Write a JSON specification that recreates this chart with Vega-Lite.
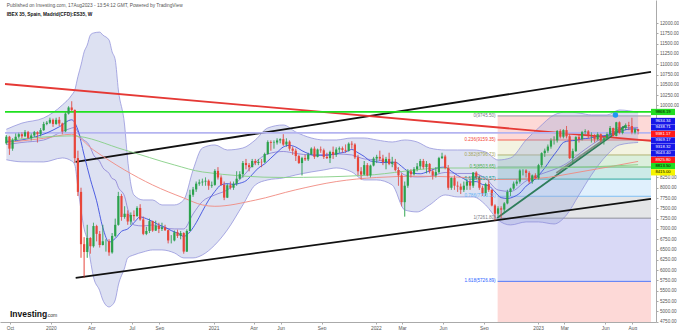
{
"$schema":"https://vega.github.io/schema/vega-lite/v6.json",
"width":656,"height":322,"padding":0,"background":"white",
"config":{"view":{"stroke":null},"font":"Liberation Sans","axis":{"grid":false,"labelColor":"#555","tickColor":"#aaa","domainColor":"#aaa","tickSize":2,"labelOverlap":false,"labelFlush":false}},
"resolve":{"scale":{"fill":"independent","stroke":"independent","strokeWidth":"independent","color":"independent"}},
"datasets":{
"candles":[
{"d":"2019-09-23","o":9080,"h":9280,"l":9050,"c":9240},
{"d":"2019-09-30","o":9240,"h":9260,"l":8800,"c":8950},
{"d":"2019-10-07","o":8950,"h":9200,"l":8900,"c":9160},
{"d":"2019-10-14","o":9160,"h":9320,"l":9130,"c":9240},
{"d":"2019-10-21","o":9240,"h":9340,"l":9200,"c":9300},
{"d":"2019-10-28","o":9300,"h":9350,"l":9200,"c":9250},
{"d":"2019-11-04","o":9250,"h":9400,"l":9230,"c":9350},
{"d":"2019-11-11","o":9350,"h":9380,"l":9180,"c":9210},
{"d":"2019-11-18","o":9210,"h":9320,"l":9150,"c":9270},
{"d":"2019-11-25","o":9270,"h":9380,"l":9230,"c":9350},
{"d":"2019-12-02","o":9350,"h":9370,"l":9100,"c":9300},
{"d":"2019-12-09","o":9300,"h":9450,"l":9250,"c":9400},
{"d":"2019-12-16","o":9400,"h":9600,"l":9380,"c":9550},
{"d":"2019-12-23","o":9550,"h":9620,"l":9520,"c":9580},
{"d":"2019-12-30","o":9580,"h":9700,"l":9550,"c":9650},
{"d":"2020-01-06","o":9650,"h":9680,"l":9480,"c":9550},
{"d":"2020-01-13","o":9550,"h":9700,"l":9530,"c":9650},
{"d":"2020-01-20","o":9650,"h":9720,"l":9500,"c":9560},
{"d":"2020-01-27","o":9560,"h":9580,"l":9300,"c":9370},
{"d":"2020-02-03","o":9370,"h":9830,"l":9350,"c":9800},
{"d":"2020-02-10","o":9800,"h":9980,"l":9780,"c":9950},
{"d":"2020-02-17","o":9950,"h":10100,"l":9850,"c":9890},
{"d":"2020-02-24","o":9890,"h":9900,"l":8600,"c":8720},
{"d":"2020-03-02","o":8720,"h":8900,"l":7800,"c":7900},
{"d":"2020-03-09","o":7900,"h":8000,"l":6300,"c":6630},
{"d":"2020-03-16","o":6630,"h":6800,"l":5814,"c":6440},
{"d":"2020-03-23","o":6440,"h":7100,"l":6300,"c":6780},
{"d":"2020-03-30","o":6780,"h":6800,"l":6400,"c":6580},
{"d":"2020-04-06","o":6580,"h":7150,"l":6550,"c":7070},
{"d":"2020-04-13","o":7070,"h":7100,"l":6700,"c":6880},
{"d":"2020-04-20","o":6880,"h":6950,"l":6550,"c":6610},
{"d":"2020-04-27","o":6610,"h":7100,"l":6600,"c":6700},
{"d":"2020-05-04","o":6700,"h":6750,"l":6450,"c":6700},
{"d":"2020-05-11","o":6700,"h":6750,"l":6350,"c":6430},
{"d":"2020-05-18","o":6430,"h":6900,"l":6400,"c":6830},
{"d":"2020-05-25","o":6830,"h":7250,"l":6800,"c":7100},
{"d":"2020-06-01","o":7100,"h":7900,"l":7080,"c":7800},
{"d":"2020-06-08","o":7800,"h":7850,"l":7200,"c":7290},
{"d":"2020-06-15","o":7290,"h":7550,"l":7250,"c":7370},
{"d":"2020-06-22","o":7370,"h":7450,"l":7100,"c":7180},
{"d":"2020-06-29","o":7180,"h":7400,"l":7100,"c":7340},
{"d":"2020-07-06","o":7340,"h":7450,"l":7200,"c":7310},
{"d":"2020-07-13","o":7310,"h":7550,"l":7300,"c":7510},
{"d":"2020-07-20","o":7510,"h":7600,"l":7200,"c":7230},
{"d":"2020-07-27","o":7230,"h":7300,"l":6850,"c":6880},
{"d":"2020-08-03","o":6880,"h":7050,"l":6850,"c":6950},
{"d":"2020-08-10","o":6950,"h":7250,"l":6900,"c":7190},
{"d":"2020-08-17","o":7190,"h":7200,"l":6930,"c":6960},
{"d":"2020-08-24","o":6960,"h":7200,"l":6950,"c":7080},
{"d":"2020-08-31","o":7080,"h":7150,"l":6900,"c":7000},
{"d":"2020-09-07","o":7000,"h":7150,"l":6950,"c":7040},
{"d":"2020-09-14","o":7040,"h":7100,"l":6950,"c":6970},
{"d":"2020-09-21","o":6970,"h":6980,"l":6650,"c":6720},
{"d":"2020-09-28","o":6720,"h":6850,"l":6650,"c":6720},
{"d":"2020-10-05","o":6720,"h":6960,"l":6700,"c":6920},
{"d":"2020-10-12","o":6920,"h":6980,"l":6780,"c":6830},
{"d":"2020-10-19","o":6830,"h":6950,"l":6750,"c":6900},
{"d":"2020-10-26","o":6900,"h":6920,"l":6400,"c":6450},
{"d":"2020-11-02","o":6450,"h":6990,"l":6440,"c":6950},
{"d":"2020-11-09","o":6950,"h":7950,"l":6950,"c":7830},
{"d":"2020-11-16","o":7830,"h":8020,"l":7780,"c":7960},
{"d":"2020-11-23","o":7960,"h":8150,"l":7900,"c":8100},
{"d":"2020-11-30","o":8100,"h":8200,"l":8050,"c":8130},
{"d":"2020-12-07","o":8130,"h":8220,"l":8050,"c":8150},
{"d":"2020-12-14","o":8150,"h":8250,"l":8050,"c":8170},
{"d":"2020-12-21","o":8170,"h":8200,"l":7950,"c":8050},
{"d":"2020-12-28","o":8050,"h":8150,"l":8000,"c":8070},
{"d":"2021-01-04","o":8070,"h":8450,"l":8050,"c":8410},
{"d":"2021-01-11","o":8410,"h":8500,"l":8200,"c":8250},
{"d":"2021-01-18","o":8250,"h":8300,"l":8050,"c":8070},
{"d":"2021-01-25","o":8070,"h":8150,"l":7700,"c":7760},
{"d":"2021-02-01","o":7760,"h":8100,"l":7750,"c":8060},
{"d":"2021-02-08","o":8060,"h":8150,"l":7960,"c":8000},
{"d":"2021-02-15","o":8000,"h":8150,"l":7950,"c":8100},
{"d":"2021-02-22","o":8100,"h":8400,"l":8050,"c":8220},
{"d":"2021-03-01","o":8220,"h":8400,"l":8200,"c":8330},
{"d":"2021-03-08","o":8330,"h":8650,"l":8250,"c":8600},
{"d":"2021-03-15","o":8600,"h":8700,"l":8450,"c":8550},
{"d":"2021-03-22","o":8550,"h":8600,"l":8400,"c":8500},
{"d":"2021-03-29","o":8500,"h":8700,"l":8500,"c":8650},
{"d":"2021-04-05","o":8650,"h":8700,"l":8550,"c":8600},
{"d":"2021-04-12","o":8600,"h":8700,"l":8550,"c":8630},
{"d":"2021-04-19","o":8630,"h":8700,"l":8500,"c":8620},
{"d":"2021-04-26","o":8620,"h":8850,"l":8600,"c":8820},
{"d":"2021-05-03","o":8820,"h":9150,"l":8800,"c":9110},
{"d":"2021-05-10","o":9110,"h":9150,"l":8900,"c":9090},
{"d":"2021-05-17","o":9090,"h":9150,"l":8950,"c":9100},
{"d":"2021-05-24","o":9100,"h":9200,"l":9050,"c":9150},
{"d":"2021-05-31","o":9150,"h":9200,"l":9080,"c":9180},
{"d":"2021-06-07","o":9180,"h":9300,"l":9020,"c":9050},
{"d":"2021-06-14","o":9050,"h":9200,"l":9000,"c":9120},
{"d":"2021-06-21","o":9120,"h":9150,"l":8900,"c":8950},
{"d":"2021-06-28","o":8950,"h":9000,"l":8800,"c":8900},
{"d":"2021-07-05","o":8900,"h":8950,"l":8650,"c":8770},
{"d":"2021-07-12","o":8770,"h":8800,"l":8580,"c":8600},
{"d":"2021-07-19","o":8600,"h":8750,"l":8300,"c":8720},
{"d":"2021-07-26","o":8720,"h":8800,"l":8650,"c":8690},
{"d":"2021-08-02","o":8690,"h":8850,"l":8650,"c":8810},
{"d":"2021-08-09","o":8810,"h":8980,"l":8800,"c":8950},
{"d":"2021-08-16","o":8950,"h":9000,"l":8700,"c":8750},
{"d":"2021-08-23","o":8750,"h":8950,"l":8740,"c":8930},
{"d":"2021-08-30","o":8930,"h":9000,"l":8850,"c":8910},
{"d":"2021-09-06","o":8910,"h":8950,"l":8700,"c":8750},
{"d":"2021-09-13","o":8750,"h":8850,"l":8700,"c":8720},
{"d":"2021-09-20","o":8720,"h":8900,"l":8600,"c":8870},
{"d":"2021-09-27","o":8870,"h":9000,"l":8700,"c":8800},
{"d":"2021-10-04","o":8800,"h":8980,"l":8750,"c":8930},
{"d":"2021-10-11","o":8930,"h":9000,"l":8850,"c":8960},
{"d":"2021-10-18","o":8960,"h":9000,"l":8850,"c":8920},
{"d":"2021-10-25","o":8920,"h":9050,"l":8850,"c":8900},
{"d":"2021-11-01","o":8900,"h":9100,"l":8880,"c":9070},
{"d":"2021-11-08","o":9070,"h":9130,"l":8950,"c":9050},
{"d":"2021-11-15","o":9050,"h":9080,"l":8700,"c":8740},
{"d":"2021-11-22","o":8740,"h":8800,"l":8300,"c":8400},
{"d":"2021-11-29","o":8400,"h":8500,"l":8200,"c":8320},
{"d":"2021-12-06","o":8320,"h":8650,"l":8300,"c":8550},
{"d":"2021-12-13","o":8550,"h":8600,"l":8280,"c":8300},
{"d":"2021-12-20","o":8300,"h":8560,"l":8250,"c":8540},
{"d":"2021-12-27","o":8540,"h":8750,"l":8520,"c":8710},
{"d":"2022-01-03","o":8710,"h":8800,"l":8600,"c":8750},
{"d":"2022-01-10","o":8750,"h":8900,"l":8650,"c":8710},
{"d":"2022-01-17","o":8710,"h":8800,"l":8550,"c":8620},
{"d":"2022-01-24","o":8620,"h":8750,"l":8450,"c":8700},
{"d":"2022-01-31","o":8700,"h":8850,"l":8550,"c":8580},
{"d":"2022-02-07","o":8580,"h":8750,"l":8500,"c":8630},
{"d":"2022-02-14","o":8630,"h":8700,"l":8400,"c":8430},
{"d":"2022-02-21","o":8430,"h":8500,"l":8050,"c":8300},
{"d":"2022-02-28","o":8300,"h":8350,"l":7550,"c":7650},
{"d":"2022-03-07","o":7650,"h":8150,"l":7300,"c":8050},
{"d":"2022-03-14","o":8050,"h":8450,"l":8000,"c":8400},
{"d":"2022-03-21","o":8400,"h":8450,"l":8250,"c":8330},
{"d":"2022-03-28","o":8330,"h":8500,"l":8300,"c":8450},
{"d":"2022-04-04","o":8450,"h":8600,"l":8400,"c":8520},
{"d":"2022-04-11","o":8520,"h":8700,"l":8450,"c":8650},
{"d":"2022-04-18","o":8650,"h":8700,"l":8450,"c":8500},
{"d":"2022-04-25","o":8500,"h":8650,"l":8350,"c":8580},
{"d":"2022-05-02","o":8580,"h":8600,"l":8350,"c":8400},
{"d":"2022-05-09","o":8400,"h":8450,"l":8200,"c":8300},
{"d":"2022-05-16","o":8300,"h":8500,"l":8250,"c":8380},
{"d":"2022-05-23","o":8380,"h":8750,"l":8350,"c":8720},
{"d":"2022-05-30","o":8720,"h":8850,"l":8700,"c":8760},
{"d":"2022-06-06","o":8760,"h":8800,"l":8450,"c":8480},
{"d":"2022-06-13","o":8480,"h":8550,"l":7950,"c":8000},
{"d":"2022-06-20","o":8000,"h":8250,"l":7950,"c":8240},
{"d":"2022-06-27","o":8240,"h":8300,"l":7950,"c":8050},
{"d":"2022-07-04","o":8050,"h":8150,"l":7900,"c":8030},
{"d":"2022-07-11","o":8030,"h":8100,"l":7850,"c":7950},
{"d":"2022-07-18","o":7950,"h":8150,"l":7900,"c":8050},
{"d":"2022-07-25","o":8050,"h":8200,"l":7950,"c":8150},
{"d":"2022-08-01","o":8150,"h":8200,"l":7950,"c":8050},
{"d":"2022-08-08","o":8050,"h":8380,"l":8000,"c":8370},
{"d":"2022-08-15","o":8370,"h":8400,"l":8200,"c":8250},
{"d":"2022-08-22","o":8250,"h":8300,"l":7950,"c":8000},
{"d":"2022-08-29","o":8000,"h":8050,"l":7800,"c":7870},
{"d":"2022-09-05","o":7870,"h":8120,"l":7800,"c":8090},
{"d":"2022-09-12","o":8090,"h":8200,"l":7900,"c":7950},
{"d":"2022-09-19","o":7950,"h":7960,"l":7550,"c":7570},
{"d":"2022-09-26","o":7570,"h":7600,"l":7200,"c":7370},
{"d":"2022-10-03","o":7370,"h":7550,"l":7300,"c":7500},
{"d":"2022-10-10","o":7500,"h":7550,"l":7260,"c":7470},
{"d":"2022-10-17","o":7470,"h":7650,"l":7400,"c":7620},
{"d":"2022-10-24","o":7620,"h":7950,"l":7600,"c":7900},
{"d":"2022-10-31","o":7900,"h":8000,"l":7800,"c":7980},
{"d":"2022-11-07","o":7980,"h":8150,"l":7950,"c":8100},
{"d":"2022-11-14","o":8100,"h":8200,"l":8050,"c":8150},
{"d":"2022-11-21","o":8150,"h":8450,"l":8100,"c":8420},
{"d":"2022-11-28","o":8420,"h":8450,"l":8300,"c":8420},
{"d":"2022-12-05","o":8420,"h":8450,"l":8250,"c":8360},
{"d":"2022-12-12","o":8360,"h":8400,"l":8100,"c":8150},
{"d":"2022-12-19","o":8150,"h":8320,"l":8100,"c":8300},
{"d":"2022-12-26","o":8300,"h":8350,"l":8200,"c":8230},
{"d":"2023-01-02","o":8230,"h":8580,"l":8200,"c":8550},
{"d":"2023-01-09","o":8550,"h":8860,"l":8500,"c":8840},
{"d":"2023-01-16","o":8840,"h":8950,"l":8750,"c":8900},
{"d":"2023-01-23","o":8900,"h":9050,"l":8850,"c":9000},
{"d":"2023-01-30","o":9000,"h":9200,"l":8950,"c":9150},
{"d":"2023-02-06","o":9150,"h":9250,"l":9050,"c":9150},
{"d":"2023-02-13","o":9150,"h":9400,"l":9100,"c":9380},
{"d":"2023-02-20","o":9380,"h":9420,"l":9200,"c":9240},
{"d":"2023-02-27","o":9240,"h":9420,"l":9200,"c":9400},
{"d":"2023-03-06","o":9400,"h":9500,"l":9200,"c":9250},
{"d":"2023-03-13","o":9250,"h":9300,"l":8700,"c":8720},
{"d":"2023-03-20","o":8720,"h":8950,"l":8600,"c":8890},
{"d":"2023-03-27","o":8890,"h":9250,"l":8870,"c":9230},
{"d":"2023-04-03","o":9230,"h":9280,"l":9100,"c":9180},
{"d":"2023-04-10","o":9180,"h":9380,"l":9150,"c":9350},
{"d":"2023-04-17","o":9350,"h":9420,"l":9300,"c":9370},
{"d":"2023-04-24","o":9370,"h":9400,"l":9200,"c":9280},
{"d":"2023-05-01","o":9280,"h":9350,"l":9100,"c":9280},
{"d":"2023-05-08","o":9280,"h":9300,"l":9100,"c":9180},
{"d":"2023-05-15","o":9180,"h":9350,"l":9150,"c":9300},
{"d":"2023-05-22","o":9300,"h":9320,"l":9100,"c":9150},
{"d":"2023-05-29","o":9150,"h":9250,"l":9050,"c":9200},
{"d":"2023-06-05","o":9200,"h":9350,"l":9180,"c":9300},
{"d":"2023-06-12","o":9300,"h":9500,"l":9280,"c":9450},
{"d":"2023-06-19","o":9450,"h":9460,"l":9250,"c":9260},
{"d":"2023-06-26","o":9260,"h":9600,"l":9250,"c":9590},
{"d":"2023-07-03","o":9590,"h":9610,"l":9300,"c":9330},
{"d":"2023-07-10","o":9330,"h":9500,"l":9300,"c":9450},
{"d":"2023-07-17","o":9450,"h":9560,"l":9400,"c":9520},
{"d":"2023-07-24","o":9520,"h":9600,"l":9400,"c":9500},
{"d":"2023-07-31","o":9500,"h":9700,"l":9300,"c":9340},
{"d":"2023-08-07","o":9340,"h":9450,"l":9300,"c":9420},
{"d":"2023-08-14","o":9420,"h":9430,"l":9300,"c":9380}
],
"bb":[
{"d":"2019-09-23","u":9420,"lo":8680,"m":9050},
{"d":"2019-10-28","u":9570,"lo":8630,"m":9100},
{"d":"2019-12-16","u":9695,"lo":8627,"m":9160},
{"d":"2020-01-27","u":10010,"lo":8724,"m":9367},
{"d":"2020-02-17","u":10250,"lo":8650,"m":9450},
{"d":"2020-02-24","u":10375,"lo":8554,"m":9465},
{"d":"2020-03-02","u":10700,"lo":8000,"m":9350},
{"d":"2020-03-09","u":10982,"lo":7461,"m":9220},
{"d":"2020-03-16","u":11300,"lo":7000,"m":9150},
{"d":"2020-03-23","u":11467,"lo":6733,"m":9100},
{"d":"2020-03-30","u":11710,"lo":6247,"m":8980},
{"d":"2020-04-06","u":11759,"lo":5834,"m":8800},
{"d":"2020-04-20","u":11780,"lo":5500,"m":8640},
{"d":"2020-04-27","u":11710,"lo":5276,"m":8490},
{"d":"2020-05-11","u":11589,"lo":5106,"m":8350},
{"d":"2020-05-18","u":11300,"lo":5150,"m":8225},
{"d":"2020-05-25","u":11103,"lo":5276,"m":8190},
{"d":"2020-06-01","u":10375,"lo":5640,"m":8008},
{"d":"2020-06-15","u":9525,"lo":6053,"m":7790},
{"d":"2020-06-22","u":8675,"lo":6296,"m":7486},
{"d":"2020-07-06","u":7825,"lo":6369,"m":7097},
{"d":"2020-07-27","u":7704,"lo":6441,"m":7072},
{"d":"2020-08-17","u":7704,"lo":6490,"m":7097},
{"d":"2020-09-07","u":7583,"lo":6490,"m":7036},
{"d":"2020-10-05","u":7583,"lo":6417,"m":7000},
{"d":"2020-10-26","u":7704,"lo":6296,"m":7000},
{"d":"2020-11-16","u":8432,"lo":6296,"m":7364},
{"d":"2020-12-07","u":8966,"lo":6369,"m":7667},
{"d":"2021-01-04","u":9040,"lo":6611,"m":7825},
{"d":"2021-02-01","u":8918,"lo":6976,"m":7947},
{"d":"2021-03-08","u":8966,"lo":7583,"m":8275},
{"d":"2021-04-05","u":9161,"lo":8068,"m":8615},
{"d":"2021-05-03","u":9452,"lo":8190,"m":8821},
{"d":"2021-06-07","u":9525,"lo":8238,"m":8881},
{"d":"2021-07-05","u":9355,"lo":8311,"m":8833},
{"d":"2021-08-09","u":9209,"lo":8384,"m":8797},
{"d":"2021-09-06","u":9161,"lo":8432,"m":8797},
{"d":"2021-10-04","u":9161,"lo":8481,"m":8821},
{"d":"2021-11-08","u":9209,"lo":8384,"m":8797},
{"d":"2021-12-06","u":9209,"lo":8190,"m":8700},
{"d":"2022-01-03","u":9161,"lo":8190,"m":8676},
{"d":"2022-02-07","u":9112,"lo":8068,"m":8590},
{"d":"2022-03-07","u":9161,"lo":7461,"m":8311},
{"d":"2022-04-04","u":9112,"lo":7413,"m":8262},
{"d":"2022-05-02","u":8966,"lo":7583,"m":8274},
{"d":"2022-06-06","u":8918,"lo":7825,"m":8372},
{"d":"2022-07-04","u":8918,"lo":7777,"m":8347},
{"d":"2022-08-08","u":8918,"lo":7777,"m":8347},
{"d":"2022-09-05","u":8869,"lo":7583,"m":8226},
{"d":"2022-10-03","u":8675,"lo":7218,"m":7946},
{"d":"2022-10-31","u":8724,"lo":7097,"m":7910},
{"d":"2022-12-05","u":9161,"lo":7170,"m":8165},
{"d":"2023-01-02","u":9452,"lo":7170,"m":8311},
{"d":"2023-02-06","u":9768,"lo":7121,"m":8444},
{"d":"2023-03-06","u":9841,"lo":7340,"m":8590},
{"d":"2023-04-03","u":9816,"lo":7825,"m":8820},
{"d":"2023-05-01","u":9768,"lo":8311,"m":9040},
{"d":"2023-06-05","u":9768,"lo":8797,"m":9282},
{"d":"2023-07-03","u":9889,"lo":9040,"m":9464},
{"d":"2023-08-14","u":9830,"lo":9100,"m":9465}
],
"ma":[
{"s":"f","d":"2019-09-23","v":9120},{"s":"f","d":"2019-10-21","v":9150},{"s":"f","d":"2019-11-25","v":9230},{"s":"f","d":"2019-12-23","v":9330},{"s":"f","d":"2020-01-20","v":9480},{"s":"f","d":"2020-02-17","v":9650},{"s":"f","d":"2020-03-02","v":9404},{"s":"f","d":"2020-03-16","v":8791},{"s":"f","d":"2020-03-30","v":8206},{"s":"f","d":"2020-04-13","v":7684},{"s":"f","d":"2020-04-27","v":7033},{"s":"f","d":"2020-05-11","v":6682},{"s":"f","d":"2020-05-25","v":6768},{"s":"f","d":"2020-06-08","v":6941},{"s":"f","d":"2020-06-22","v":7001},{"s":"f","d":"2020-07-06","v":7150},{"s":"f","d":"2020-07-20","v":7290},{"s":"f","d":"2020-08-03","v":7250},{"s":"f","d":"2020-08-17","v":7180},{"s":"f","d":"2020-08-31","v":7100},{"s":"f","d":"2020-09-14","v":7040},{"s":"f","d":"2020-09-28","v":6960},{"s":"f","d":"2020-10-12","v":6900},{"s":"f","d":"2020-10-26","v":6820},{"s":"f","d":"2020-11-09","v":6930},{"s":"f","d":"2020-11-23","v":7150},{"s":"f","d":"2020-12-07","v":7430},{"s":"f","d":"2020-12-21","v":7700},{"s":"f","d":"2021-01-04","v":7910},{"s":"f","d":"2021-01-18","v":8070},{"s":"f","d":"2021-02-01","v":8100},{"s":"f","d":"2021-02-15","v":8080},{"s":"f","d":"2021-03-01","v":8110},{"s":"f","d":"2021-03-15","v":8170},{"s":"f","d":"2021-03-29","v":8320},{"s":"f","d":"2021-04-12","v":8480},{"s":"f","d":"2021-04-26","v":8580},{"s":"f","d":"2021-05-10","v":8720},{"s":"f","d":"2021-05-24","v":8860},{"s":"f","d":"2021-06-07","v":8990},{"s":"f","d":"2021-06-21","v":9030},{"s":"f","d":"2021-07-05","v":8990},{"s":"f","d":"2021-07-19","v":8900},{"s":"f","d":"2021-08-02","v":8830},{"s":"f","d":"2021-08-16","v":8790},{"s":"f","d":"2021-08-30","v":8790},{"s":"f","d":"2021-09-13","v":8790},{"s":"f","d":"2021-09-27","v":8810},{"s":"f","d":"2021-10-11","v":8840},{"s":"f","d":"2021-10-25","v":8870},{"s":"f","d":"2021-11-08","v":8930},{"s":"f","d":"2021-11-22","v":8850},{"s":"f","d":"2021-12-06","v":8760},{"s":"f","d":"2021-12-20","v":8650},{"s":"f","d":"2022-01-03","v":8630},{"s":"f","d":"2022-01-17","v":8610},{"s":"f","d":"2022-01-31","v":8620},{"s":"f","d":"2022-02-14","v":8620},{"s":"f","d":"2022-02-28","v":8520},{"s":"f","d":"2022-03-14","v":8400},{"s":"f","d":"2022-03-28","v":8350},{"s":"f","d":"2022-04-11","v":8340},{"s":"f","d":"2022-04-25","v":8380},{"s":"f","d":"2022-05-09","v":8440},{"s":"f","d":"2022-05-23","v":8490},{"s":"f","d":"2022-06-06","v":8500},{"s":"f","d":"2022-06-20","v":8400},{"s":"f","d":"2022-07-04","v":8300},{"s":"f","d":"2022-07-18","v":8220},{"s":"f","d":"2022-08-01","v":8140},{"s":"f","d":"2022-08-15","v":8150},{"s":"f","d":"2022-08-29","v":8080},{"s":"f","d":"2022-09-12","v":8050},{"s":"f","d":"2022-09-26","v":7900},{"s":"f","d":"2022-10-10","v":7760},{"s":"f","d":"2022-10-24","v":7740},{"s":"f","d":"2022-11-07","v":7780},{"s":"f","d":"2022-11-21","v":7870},{"s":"f","d":"2022-12-05","v":8040},{"s":"f","d":"2022-12-19","v":8150},{"s":"f","d":"2023-01-02","v":8300},{"s":"f","d":"2023-01-16","v":8480},{"s":"f","d":"2023-01-30","v":8700},{"s":"f","d":"2023-02-13","v":8900},{"s":"f","d":"2023-02-27","v":9100},{"s":"f","d":"2023-03-13","v":9140},{"s":"f","d":"2023-03-27","v":9150},{"s":"f","d":"2023-04-10","v":9190},{"s":"f","d":"2023-04-24","v":9200},{"s":"f","d":"2023-05-08","v":9230},{"s":"f","d":"2023-05-22","v":9260},{"s":"f","d":"2023-06-05","v":9270},{"s":"f","d":"2023-06-19","v":9320},{"s":"f","d":"2023-07-03","v":9360},{"s":"f","d":"2023-07-17","v":9410},{"s":"f","d":"2023-07-31","v":9430},{"s":"f","d":"2023-08-14","v":9420},
{"s":"s","d":"2019-09-23","v":9100},{"s":"s","d":"2019-12-16","v":9200},{"s":"s","d":"2020-02-17","v":9300},{"s":"s","d":"2020-04-06","v":8918},{"s":"s","d":"2020-06-15","v":8432},{"s":"s","d":"2020-08-17","v":8068},{"s":"s","d":"2020-10-26","v":7752},{"s":"s","d":"2020-12-07","v":7583},{"s":"s","d":"2021-01-04","v":7550},{"s":"s","d":"2021-04-05","v":7700},{"s":"s","d":"2021-07-05","v":7950},{"s":"s","d":"2021-10-04","v":8150},{"s":"s","d":"2022-01-03","v":8250},{"s":"s","d":"2022-04-04","v":8280},{"s":"s","d":"2022-07-04","v":8260},{"s":"s","d":"2022-10-03","v":8200},{"s":"s","d":"2023-01-02","v":8230},{"s":"s","d":"2023-04-03","v":8380},{"s":"s","d":"2023-08-14","v":8640},
{"s":"g","d":"2019-09-23","v":9150},{"s":"g","d":"2020-02-17","v":9260},{"s":"g","d":"2020-06-15","v":8918},{"s":"g","d":"2020-10-05","v":8554},{"s":"g","d":"2020-12-07","v":8384},{"s":"g","d":"2021-06-07","v":8250},{"s":"g","d":"2021-12-06","v":8300},{"s":"g","d":"2022-06-06","v":8480},{"s":"g","d":"2023-01-02","v":8480},{"s":"g","d":"2023-08-14","v":8560}
],
"lines":[
{"id":"black1","d":"2020-02-26","p":8627},{"id":"black1","d":"2023-09-12","p":10812},
{"id":"black2","d":"2020-02-26","p":5810},{"id":"black2","d":"2023-09-12","p":7728},
{"id":"red","d":"2019-09-20","p":10520},{"id":"red","d":"2023-09-12","p":9137},
{"id":"hgreen","d":"2019-09-20","p":9841},{"id":"hgreen","d":"2023-09-12","p":9841},
{"id":"hlav","d":"2019-09-20","p":9331},{"id":"hlav","d":"2023-09-12","p":9331},
{"id":"teal","d":"2022-10-01","p":7267},{"id":"teal","d":"2023-07-16","p":9501},
{"id":"gray","d":"2023-02-11","p":8360},{"id":"gray","d":"2023-07-05","p":9452}
],
"fib":[
{"lv":"0","p":9745.5,"up":9745.5,"t":"0(9745.50)"},
{"lv":"0.236","p":9159.35,"up":9745.5,"t":"0.236(9159.35)"},
{"lv":"0.382","p":8796.73,"up":9159.35,"t":"0.382(8796.73)"},
{"lv":"0.5","p":8503.65,"up":8796.73,"t":"0.5(8503.65)"},
{"lv":"0.618","p":8210.57,"up":8503.65,"t":"0.618(8210.57)"},
{"lv":"0.786","p":7793.31,"up":8210.57,"t":"0.786(7793.31)"},
{"lv":"1","p":7261.8,"up":7793.31,"t":"1(7261.80)"},
{"lv":"1.618","p":5726.89,"up":7261.8,"t":"1.618(5726.89)"},
{"lv":"2.618","p":3243.19,"up":5726.89,"t":""}
],
"tags":[
{"p":9841,"t":"9868.19","k":"g"},{"p":9622,"t":"9634.34","k":"b"},{"p":9464,"t":"9438.71","k":"b"},{"p":9306,"t":"9381.17","k":"r"},{"p":9149,"t":"9369.17","k":"b"},{"p":8991,"t":"9318.32","k":"b"},{"p":8833,"t":"9043.40","k":"b"},{"p":8675,"t":"8925.80","k":"r"},{"p":8525,"t":"8813.50","k":"g"},{"p":8375,"t":"8415.00","k":"y"}
]
},
"layer":[
{"data":{"name":"candles"},"mark":{"type":"rule","strokeWidth":0.6},
 "encoding":{
  "x":{"field":"d","type":"temporal","scale":{"type":"utc","domain":[{"year":2019,"month":9,"date":20,"utc":true},{"year":2023,"month":9,"date":12,"utc":true}],"nice":false},"axis":{"orient":"bottom","title":null,"tickCount":40,"values":[{"year":2019,"month":10,"date":1,"utc":true},{"year":2020,"month":1,"date":1,"utc":true},{"year":2020,"month":4,"date":1,"utc":true},{"year":2020,"month":7,"date":1,"utc":true},{"year":2020,"month":9,"date":1,"utc":true},{"year":2021,"month":1,"date":1,"utc":true},{"year":2021,"month":4,"date":1,"utc":true},{"year":2021,"month":6,"date":1,"utc":true},{"year":2021,"month":9,"date":1,"utc":true},{"year":2022,"month":1,"date":1,"utc":true},{"year":2022,"month":3,"date":1,"utc":true},{"year":2022,"month":6,"date":1,"utc":true},{"year":2022,"month":9,"date":1,"utc":true},{"year":2023,"month":1,"date":1,"utc":true},{"year":2023,"month":3,"date":1,"utc":true},{"year":2023,"month":6,"date":1,"utc":true},{"year":2023,"month":8,"date":1,"utc":true}],"labelExpr":"utcmonth(datum.value) === 0 ? utcFormat(datum.value, '%Y') : utcFormat(datum.value, '%b')","labelFontSize":4.8,"labelPadding":1,"labelOverlap":false}},
  "y":{"field":"l","type":"quantitative","scale":{"domain":[4740,12560],"nice":false,"zero":false,"clamp":true},"axis":{"orient":"right","title":null,"tickCount":40,"values":[4750,5000,5250,5500,5750,6000,6250,6500,6750,7000,7250,7500,7750,8000,8250,10000,10250,10500,10750,11000,11250,11500,11750,12000],"format":".2f","labelFontSize":4.6,"labelPadding":1.5,"labelOverlap":false,"labelBound":false}},
  "y2":{"field":"h"},
  "color":{"condition":{"test":"datum.c >= datum.o","value":"#2ba24c"},"value":"#e8463a"}}},
{"data":{"name":"fib"},"mark":{"type":"rect","opacity":0.2},
 "encoding":{
  "x":{"datum":{"year":2022,"month":10,"date":2,"utc":true},"type":"temporal","axis":{"title":null}},
  "x2":{"datum":{"year":2023,"month":9,"date":12,"utc":true}},
  "y":{"field":"up","type":"quantitative","axis":{"title":null}},
  "y2":{"field":"p"},
  "fill":{"field":"lv","type":"nominal","scale":{"domain":["0","0.236","0.382","0.5","0.618","0.786","1","1.618","2.618"],"range":["#787b86","#f44336","#c5c36a","#4caf50","#009688","#64b5f6","#787b86","#3f3fd0","#f44336"]},"legend":null}}},
{"data":{"name":"fib"},"transform":[{"filter":"datum.t != ''"}],"mark":{"type":"rule","strokeWidth":0.8},
 "encoding":{
  "x":{"datum":{"year":2022,"month":10,"date":2,"utc":true},"type":"temporal","axis":{"title":null}},
  "x2":{"datum":{"year":2023,"month":9,"date":12,"utc":true}},
  "y":{"field":"p","type":"quantitative","axis":{"title":null}},
  "stroke":{"field":"lv","type":"nominal","scale":{"domain":["0","0.236","0.382","0.5","0.618","0.786","1","1.618"],"range":["#787b86","#f44336","#a5a55a","#4caf50","#009688","#64b5f6","#787b86","#2962ff"]},"legend":null}}},
{"data":{"name":"bb"},"mark":{"type":"area","color":"#9fa8da","opacity":0.35,"interpolate":"monotone"},
 "encoding":{"x":{"field":"d","type":"temporal","axis":{"title":null}},"y":{"field":"u","type":"quantitative","axis":{"title":null}},"y2":{"field":"lo"}}},
{"data":{"name":"bb"},"mark":{"type":"line","color":"#8a8ad8","strokeWidth":0.7,"interpolate":"monotone"},
 "encoding":{"x":{"field":"d","type":"temporal","axis":{"title":null}},"y":{"field":"u","type":"quantitative","axis":{"title":null}}}},
{"data":{"name":"bb"},"mark":{"type":"line","color":"#8a8ad8","strokeWidth":0.7,"interpolate":"monotone"},
 "encoding":{"x":{"field":"d","type":"temporal","axis":{"title":null}},"y":{"field":"lo","type":"quantitative","axis":{"title":null}}}},
{"data":{"name":"bb"},"mark":{"type":"line","color":"#7b6fd0","strokeWidth":0.7,"interpolate":"monotone"},
 "encoding":{"x":{"field":"d","type":"temporal","axis":{"title":null}},"y":{"field":"m","type":"quantitative","axis":{"title":null}}}},
{"data":{"name":"lines"},"mark":{"type":"line"},
 "encoding":{"x":{"field":"d","type":"temporal","axis":{"title":null}},"y":{"field":"p","type":"quantitative","axis":{"title":null}},"detail":{"field":"id"},
  "stroke":{"field":"id","type":"nominal","scale":{"domain":["black1","black2","red","hgreen","hlav","teal","gray"],"range":["#111111","#111111","#e53935","#1fe01f","#b4b4f0","#2e7d5b","#7f8f86"]},"legend":null},
  "strokeWidth":{"field":"id","type":"nominal","scale":{"domain":["black1","black2","red","hgreen","hlav","teal","gray"],"range":[1.8,1.8,1.2,2,1,0.8,0.8]},"legend":null}}},
{"data":{"name":"ma"},"mark":{"type":"line","strokeWidth":0.9,"interpolate":"monotone"},
 "encoding":{"x":{"field":"d","type":"temporal","axis":{"title":null}},"y":{"field":"v","type":"quantitative","axis":{"title":null}},
  "stroke":{"field":"s","type":"nominal","scale":{"domain":["f","s","g"],"range":["#3d4fe0","#f08a80","#86cf86"]},"legend":null}}},
{"data":{"name":"candles"},"mark":{"type":"rule","strokeWidth":0.6},
 "encoding":{"x":{"field":"d","type":"temporal","axis":{"title":null}},"y":{"field":"l","type":"quantitative","axis":{"title":null}},"y2":{"field":"h"},
  "color":{"condition":{"test":"datum.c >= datum.o","value":"#2ba24c"},"value":"#e8463a"}}},
{"data":{"name":"candles"},"mark":{"type":"bar","size":2.2,"orient":"vertical"},
 "encoding":{"x":{"field":"d","type":"temporal","axis":{"title":null}},"y":{"field":"o","type":"quantitative","axis":{"title":null}},"y2":{"field":"c"},
  "color":{"condition":{"test":"datum.c >= datum.o","value":"#2ba24c"},"value":"#e8463a"}}},
{"data":{"name":"fib"},"transform":[{"filter":"datum.t != ''"}],"mark":{"type":"text","align":"right","baseline":"middle","dx":-2,"fontSize":4.6},
 "encoding":{"x":{"datum":{"year":2022,"month":10,"date":2,"utc":true},"type":"temporal","axis":{"title":null}},"y":{"field":"p","type":"quantitative","axis":{"title":null}},"text":{"field":"t"},
  "fill":{"field":"lv","type":"nominal","scale":{"domain":["0","0.236","0.382","0.5","0.618","0.786","1","1.618"],"range":["#787b86","#f44336","#a5a55a","#4caf50","#009688","#64b5f6","#787b86","#2962ff"]},"legend":null}}},
{"data":{"name":"tags"},"mark":{"type":"point","filled":true,"opacity":1,"strokeWidth":0,"shape":"M-1,-0.26L1,-0.26L1,0.26L-1,0.26Z","size":576},
 "encoding":{"x":{"datum":{"year":2023,"month":10,"date":9,"utc":true},"type":"temporal","axis":{"title":null}},"y":{"field":"p","type":"quantitative","axis":{"title":null}},
  "fill":{"field":"k","type":"nominal","scale":{"domain":["g","b","r","y"],"range":["#22dd22","#1616e8","#ff1a1a","#f5f500"]},"legend":null}}},
{"data":{"name":"tags"},"mark":{"type":"text","align":"center","baseline":"middle","fontSize":4.2},
 "encoding":{"x":{"datum":{"year":2023,"month":10,"date":9,"utc":true},"type":"temporal","axis":{"title":null}},"y":{"field":"p","type":"quantitative","axis":{"title":null}},"text":{"field":"t"},
  "color":{"condition":{"test":"datum.k == 'g' || datum.k == 'y'","value":"#000000"},"value":"#ffffff"}}},
{"data":{"values":[{}]},"mark":{"type":"point","shape":"circle","size":30,"filled":true,"opacity":1,"color":"#2196f3"},
 "encoding":{"x":{"datum":{"year":2023,"month":6,"date":24,"utc":true},"type":"temporal","axis":{"title":null}},"y":{"datum":9768,"type":"quantitative","axis":{"title":null}}}},
{"data":{"values":[{}]},"mark":{"type":"text","align":"left","baseline":"middle","fontSize":4.8,"color":"#555"},
 "encoding":{"x":{"datum":{"year":2019,"month":9,"date":24,"utc":true},"type":"temporal","axis":{"title":null}},"y":{"datum":12414,"type":"quantitative","axis":{"title":null}},"text":{"value":"Published on Investing.com, 17Aug2023 - 13:54:12 GMT, Powered by TradingView"}}},
{"data":{"values":[{}]},"mark":{"type":"text","align":"left","baseline":"middle","fontSize":4.8,"fontWeight":"bold","color":"#111"},
 "encoding":{"x":{"datum":{"year":2019,"month":9,"date":24,"utc":true},"type":"temporal","axis":{"title":null}},"y":{"datum":12196,"type":"quantitative","axis":{"title":null}},"text":{"value":"IBEX 35, Spain, Madrid(CFD):ES35, W"}}},
{"data":{"values":[{}]},"mark":{"type":"text","align":"left","baseline":"alphabetic","fontSize":8.5,"fontWeight":"bold","color":"#111"},
 "encoding":{"x":{"datum":{"year":2019,"month":10,"date":1,"utc":true},"type":"temporal","axis":{"title":null}},"y":{"datum":4863,"type":"quantitative","axis":{"title":null}},"text":{"value":"Investing"}}},
{"data":{"values":[{}]},"mark":{"type":"text","align":"left","baseline":"alphabetic","fontSize":5,"color":"#333"},
 "encoding":{"x":{"datum":{"year":2019,"month":12,"date":22,"utc":true},"type":"temporal","axis":{"title":null}},"y":{"datum":4863,"type":"quantitative","axis":{"title":null}},"text":{"value":".com"}}}
]
}
